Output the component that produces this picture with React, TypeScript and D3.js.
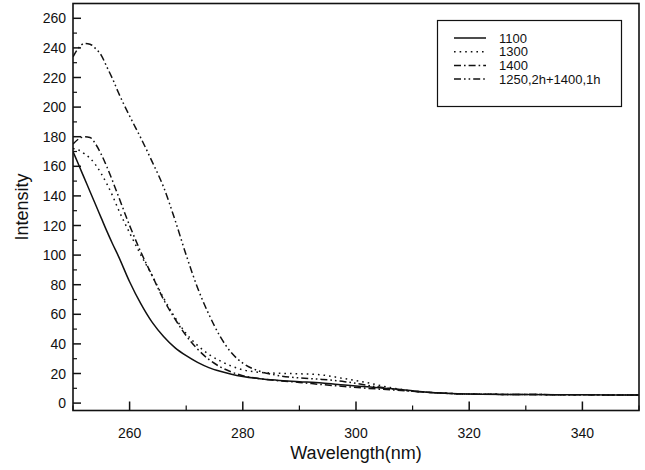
import React from "react";
import * as d3 from "d3";

const wavelength = [250, 251, 252, 253, 254, 255, 256, 257, 258, 260, 262, 264, 266, 268, 270, 272, 274, 276, 278, 280, 283, 286, 290, 294, 298, 302, 306, 310, 314, 318, 322, 330, 340, 350];

const s1100 = [170, 161, 152, 143, 134, 125, 116, 107.5, 99.5, 82, 67, 54.5, 45, 37.5, 32, 27.5, 24, 21.5, 19.5, 18, 16.5, 15.5, 14.5, 13.5, 12.2, 11, 9.8, 8.3, 7, 6.3, 6, 5.8, 5.6, 5.5];
const s1300 = [172, 171, 168.5, 165.5, 161, 155, 148, 140, 131, 115, 100, 86, 71, 58, 47, 39, 33, 28.5, 25, 22.5, 20.8, 20.2, 19.8, 19, 16.5, 13.8, 10.5, 8.2, 7, 6.3, 6, 5.8, 5.6, 5.5];
const s1400 = [175, 178.5, 180, 179.5, 175, 168, 159.5, 150, 140, 120, 102, 86, 70, 57, 45.5, 36.5, 29.5, 24.5, 21, 18.5, 16.5, 15.2, 14, 12.5, 11.2, 10, 9, 8, 7, 6.3, 6, 5.8, 5.6, 5.5];
const s1250 = [234, 240, 243, 242.5, 239.5, 235, 227, 219, 210, 194, 179, 163, 146, 124, 100, 78, 60, 45, 34, 27, 21.5, 18.8, 17, 16, 14.5, 12, 9.8, 8, 7, 6.3, 6, 5.8, 5.6, 5.5];

const seriesNames = ["1100", "1300", "1400", "1250,2h+1400,1h"];
const seriesValues = [s1100, s1300, s1400, s1250];
const dashes = ["none", "1.6,4", "7,3,1.6,3", "7,3,1.6,3,1.6,3"];

const xTicks = [260, 280, 300, 320, 340];
const xMinor = [250, 270, 290, 310, 330, 350];
const yTicks = [0, 20, 40, 60, 80, 100, 120, 140, 160, 180, 200, 220, 240, 260];
const yMinor = [10, 30, 50, 70, 90, 110, 130, 150, 170, 190, 210, 230, 250];

const L = 73, R = 639, T = 3.5, B = 410.5;
const font = "Arial, 'Liberation Sans', sans-serif";

export default function App() {
  const x = d3.scaleLinear().domain([250, 350]).range([L, R]);
  const y = d3.scaleLinear().domain([-5, 270]).range([B, T]);
  const line = d3
    .line<number>()
    .x((_, i) => x(wavelength[i]))
    .y((v) => y(v))
    .curve(d3.curveMonotoneX);

  return (
    <svg width={645} height={470} style={{ position: "absolute", left: 0, top: 0, background: "#fff" }}>
      <defs>
        <clipPath id="plot">
          <rect x={L} y={T} width={R - L} height={B - T} />
        </clipPath>
      </defs>
      <g clipPath="url(#plot)">
        {seriesValues.map((vals, k) => (
          <path key={k} d={line(vals) || ""} fill="none" stroke="#111" strokeWidth={1.5} strokeDasharray={dashes[k]} />
        ))}
      </g>
      <rect x={L} y={T} width={R - L} height={B - T} fill="none" stroke="#111" strokeWidth={1.6} />
      {xTicks.map((t) => (
        <g key={"x" + t}>
          <line x1={x(t)} x2={x(t)} y1={B} y2={B - 9} stroke="#111" strokeWidth={1.5} />
          <text x={x(t)} y={438} textAnchor="middle" fontFamily={font} fontSize={14} fill="#111">{t}</text>
        </g>
      ))}
      {xMinor.map((t) => (
        <line key={"xm" + t} x1={x(t)} x2={x(t)} y1={B} y2={B - 5} stroke="#111" strokeWidth={1.2} />
      ))}
      {yTicks.map((t) => (
        <g key={"y" + t}>
          <line x1={L} x2={L + 8} y1={y(t)} y2={y(t)} stroke="#111" strokeWidth={1.5} />
          <text x={66} y={y(t) + 5} textAnchor="end" fontFamily={font} fontSize={14} fill="#111">{t}</text>
        </g>
      ))}
      {yMinor.map((t) => (
        <line key={"ym" + t} x1={L} x2={L + 4} y1={y(t)} y2={y(t)} stroke="#111" strokeWidth={1.2} />
      ))}
      <text x={(L + R) / 2} y={459} textAnchor="middle" fontFamily={font} fontSize={18} fill="#111">Wavelength(nm)</text>
      <text transform={`translate(28,${(T + B) / 2}) rotate(-90)`} textAnchor="middle" fontFamily={font} fontSize={18} fill="#111">Intensity</text>
      <rect x={437.5} y={20.5} width={184} height={86} fill="#fff" stroke="#111" strokeWidth={1.2} />
      {seriesNames.map((n, k) => {
        const yy = 38 + k * 13.7;
        return (
          <g key={n}>
            <line x1={454} x2={486} y1={yy} y2={yy} stroke="#111" strokeWidth={1.5} strokeDasharray={dashes[k]} />
            <text x={499} y={yy + 4.5} fontFamily={font} fontSize={13} fill="#111">{n}</text>
          </g>
        );
      })}
    </svg>
  );
}
